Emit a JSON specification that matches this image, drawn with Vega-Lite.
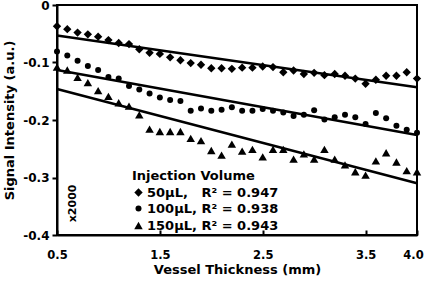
{
  "$schema": "https://vega.github.io/schema/vega-lite/v6.json",
  "width": 360,
  "height": 230,
  "autosize": {"type": "none"},
  "padding": {"left": 57, "top": 5, "right": 8, "bottom": 50},
  "background": "white",
  "config": {
    "font": "DejaVu Sans",
    "view": {"stroke": "black", "strokeWidth": 2},
    "axis": {"grid": false, "domainColor": "black", "tickColor": "black", "labelColor": "black", "titleColor": "black", "labelFont": "DejaVu Sans", "titleFont": "DejaVu Sans", "labelFontWeight": "bold", "titleFontWeight": "bold", "domainWidth": 2, "tickWidth": 2}
  },
  "datasets": {
    "pts": [
      {"x": 0.5, "v": -0.037, "s": "50µL"}, {"x": 0.6, "v": -0.042, "s": "50µL"}, {"x": 0.7, "v": -0.048, "s": "50µL"}, {"x": 0.8, "v": -0.051, "s": "50µL"}, {"x": 0.9, "v": -0.055, "s": "50µL"}, {"x": 1.0, "v": -0.061, "s": "50µL"}, {"x": 1.1, "v": -0.066, "s": "50µL"}, {"x": 1.2, "v": -0.068, "s": "50µL"}, {"x": 1.3, "v": -0.077, "s": "50µL"}, {"x": 1.4, "v": -0.083, "s": "50µL"}, {"x": 1.5, "v": -0.085, "s": "50µL"}, {"x": 1.6, "v": -0.091, "s": "50µL"}, {"x": 1.7, "v": -0.096, "s": "50µL"}, {"x": 1.8, "v": -0.101, "s": "50µL"}, {"x": 1.9, "v": -0.104, "s": "50µL"}, {"x": 2.0, "v": -0.110, "s": "50µL"}, {"x": 2.1, "v": -0.110, "s": "50µL"}, {"x": 2.2, "v": -0.111, "s": "50µL"}, {"x": 2.3, "v": -0.109, "s": "50µL"}, {"x": 2.4, "v": -0.109, "s": "50µL"}, {"x": 2.5, "v": -0.107, "s": "50µL"}, {"x": 2.6, "v": -0.108, "s": "50µL"}, {"x": 2.7, "v": -0.117, "s": "50µL"}, {"x": 2.8, "v": -0.114, "s": "50µL"}, {"x": 2.9, "v": -0.120, "s": "50µL"}, {"x": 3.0, "v": -0.118, "s": "50µL"}, {"x": 3.1, "v": -0.122, "s": "50µL"}, {"x": 3.2, "v": -0.120, "s": "50µL"}, {"x": 3.3, "v": -0.123, "s": "50µL"}, {"x": 3.4, "v": -0.128, "s": "50µL"}, {"x": 3.5, "v": -0.137, "s": "50µL"}, {"x": 3.6, "v": -0.130, "s": "50µL"}, {"x": 3.7, "v": -0.123, "s": "50µL"}, {"x": 3.8, "v": -0.123, "s": "50µL"}, {"x": 3.9, "v": -0.117, "s": "50µL"}, {"x": 4.0, "v": -0.128, "s": "50µL"},
      {"x": 0.5, "v": -0.081, "s": "100µL"}, {"x": 0.6, "v": -0.088, "s": "100µL"}, {"x": 0.7, "v": -0.097, "s": "100µL"}, {"x": 0.8, "v": -0.106, "s": "100µL"}, {"x": 0.9, "v": -0.113, "s": "100µL"}, {"x": 1.0, "v": -0.125, "s": "100µL"}, {"x": 1.1, "v": -0.128, "s": "100µL"}, {"x": 1.2, "v": -0.141, "s": "100µL"}, {"x": 1.3, "v": -0.147, "s": "100µL"}, {"x": 1.4, "v": -0.154, "s": "100µL"}, {"x": 1.5, "v": -0.161, "s": "100µL"}, {"x": 1.6, "v": -0.165, "s": "100µL"}, {"x": 1.7, "v": -0.167, "s": "100µL"}, {"x": 1.8, "v": -0.184, "s": "100µL"}, {"x": 1.9, "v": -0.180, "s": "100µL"}, {"x": 2.0, "v": -0.184, "s": "100µL"}, {"x": 2.1, "v": -0.182, "s": "100µL"}, {"x": 2.2, "v": -0.178, "s": "100µL"}, {"x": 2.3, "v": -0.184, "s": "100µL"}, {"x": 2.4, "v": -0.184, "s": "100µL"}, {"x": 2.5, "v": -0.181, "s": "100µL"}, {"x": 2.6, "v": -0.184, "s": "100µL"}, {"x": 2.7, "v": -0.187, "s": "100µL"}, {"x": 2.8, "v": -0.193, "s": "100µL"}, {"x": 2.9, "v": -0.191, "s": "100µL"}, {"x": 3.0, "v": -0.183, "s": "100µL"}, {"x": 3.1, "v": -0.199, "s": "100µL"}, {"x": 3.2, "v": -0.195, "s": "100µL"}, {"x": 3.3, "v": -0.191, "s": "100µL"}, {"x": 3.4, "v": -0.195, "s": "100µL"}, {"x": 3.5, "v": -0.207, "s": "100µL"}, {"x": 3.6, "v": -0.188, "s": "100µL"}, {"x": 3.7, "v": -0.197, "s": "100µL"}, {"x": 3.8, "v": -0.210, "s": "100µL"}, {"x": 3.9, "v": -0.217, "s": "100µL"}, {"x": 4.0, "v": -0.222, "s": "100µL"},
      {"x": 0.5, "v": -0.108, "s": "150µL"}, {"x": 0.6, "v": -0.113, "s": "150µL"}, {"x": 0.7, "v": -0.126, "s": "150µL"}, {"x": 0.8, "v": -0.135, "s": "150µL"}, {"x": 0.9, "v": -0.149, "s": "150µL"}, {"x": 1.0, "v": -0.159, "s": "150µL"}, {"x": 1.1, "v": -0.170, "s": "150µL"}, {"x": 1.2, "v": -0.176, "s": "150µL"}, {"x": 1.3, "v": -0.191, "s": "150µL"}, {"x": 1.4, "v": -0.216, "s": "150µL"}, {"x": 1.5, "v": -0.220, "s": "150µL"}, {"x": 1.6, "v": -0.220, "s": "150µL"}, {"x": 1.7, "v": -0.220, "s": "150µL"}, {"x": 1.8, "v": -0.232, "s": "150µL"}, {"x": 1.9, "v": -0.236, "s": "150µL"}, {"x": 2.0, "v": -0.253, "s": "150µL"}, {"x": 2.1, "v": -0.261, "s": "150µL"}, {"x": 2.2, "v": -0.242, "s": "150µL"}, {"x": 2.3, "v": -0.254, "s": "150µL"}, {"x": 2.4, "v": -0.251, "s": "150µL"}, {"x": 2.5, "v": -0.264, "s": "150µL"}, {"x": 2.6, "v": -0.251, "s": "150µL"}, {"x": 2.7, "v": -0.251, "s": "150µL"}, {"x": 2.8, "v": -0.268, "s": "150µL"}, {"x": 2.9, "v": -0.259, "s": "150µL"}, {"x": 3.0, "v": -0.268, "s": "150µL"}, {"x": 3.1, "v": -0.251, "s": "150µL"}, {"x": 3.2, "v": -0.268, "s": "150µL"}, {"x": 3.3, "v": -0.278, "s": "150µL"}, {"x": 3.4, "v": -0.290, "s": "150µL"}, {"x": 3.5, "v": -0.296, "s": "150µL"}, {"x": 3.6, "v": -0.271, "s": "150µL"}, {"x": 3.7, "v": -0.257, "s": "150µL"}, {"x": 3.8, "v": -0.273, "s": "150µL"}, {"x": 3.9, "v": -0.288, "s": "150µL"}, {"x": 4.0, "v": -0.290, "s": "150µL"}
    ],
    "fits": [
      {"x": 0.5, "v": -0.053, "s": "50µL"}, {"x": 4.0, "v": -0.143, "s": "50µL"},
      {"x": 0.5, "v": -0.113, "s": "100µL"}, {"x": 4.0, "v": -0.226, "s": "100µL"},
      {"x": 0.5, "v": -0.146, "s": "150µL"}, {"x": 4.0, "v": -0.310, "s": "150µL"}
    ],
    "note": [{"x": 0.66, "v": -0.345, "t": "x2000"}]
  },
  "layer": [
    {
      "data": {"name": "fits"},
      "mark": {"type": "line", "color": "black", "strokeWidth": 2.5},
      "encoding": {
        "x": {"field": "x", "type": "quantitative", "scale": {"domain": [0.5, 4.0], "nice": false, "zero": false},
              "axis": {"values": [0.5, 1.5, 2.5, 3.5, 4.0], "format": ".1f", "title": "Vessel Thickness (mm)", "labelFontSize": 11.5, "titleFontSize": 13, "tickSize": -5, "labelPadding": 19, "titlePadding": 3, "labelFlush": false,
                       "labelOffset": {"condition": {"test": "datum.value == 4", "value": -4}, "value": 0}}},
        "y": {"field": "v", "type": "quantitative", "scale": {"domain": [-0.4, 0], "nice": false},
              "axis": {"values": [0, -0.1, -0.2, -0.3, -0.4], "labelExpr": "datum.value == 0 ? '0' : '-' + format(-datum.value, '.1f')", "title": "Signal Intensity (a.u.)", "labelFontSize": 12, "titleFontSize": 13, "tickSize": 5, "labelPadding": 3, "titlePadding": 6, "labelFlush": false}},
        "detail": {"field": "s"}
      }
    },
    {
      "data": {"name": "pts"},
      "mark": {"type": "point", "filled": true, "color": "black", "opacity": 1},
      "encoding": {
        "x": {"field": "x", "type": "quantitative"},
        "y": {"field": "v", "type": "quantitative"},
        "shape": {"field": "s", "type": "nominal",
                  "scale": {"domain": ["50µL", "100µL", "150µL"], "range": ["diamond", "circle", "triangle-up"]},
                  "legend": {"title": "Injection Volume", "orient": "none", "legendX": 75, "legendY": 165,
                             "labelExpr": "datum.label == '50µL' ? '50µL,\u00a0\u00a0\u00a0R² = 0.947' : datum.label == '100µL' ? '100µL, R² = 0.938' : '150µL, R² = 0.943'",
                             "titleFontSize": 13, "titleFontWeight": "bold", "titleColor": "black", "titleFont": "DejaVu Sans",
                             "labelFontSize": 13, "labelFontWeight": "bold", "labelColor": "black", "labelFont": "DejaVu Sans",
                             "symbolFillColor": "black", "symbolStrokeColor": "black", "rowPadding": 2, "labelOffset": 2, "titlePadding": 3, "padding": 0}},
        "size": {"field": "s", "type": "nominal",
                 "scale": {"type": "ordinal", "domain": ["50µL", "100µL", "150µL"], "range": [70, 36, 72]}}
      }
    },
    {
      "data": {"name": "note"},
      "mark": {"type": "text", "angle": 270, "fontSize": 11, "fontWeight": "bold", "color": "black", "font": "DejaVu Sans"},
      "encoding": {
        "x": {"field": "x", "type": "quantitative"},
        "y": {"field": "v", "type": "quantitative"},
        "text": {"field": "t"}
      }
    }
  ]
}
